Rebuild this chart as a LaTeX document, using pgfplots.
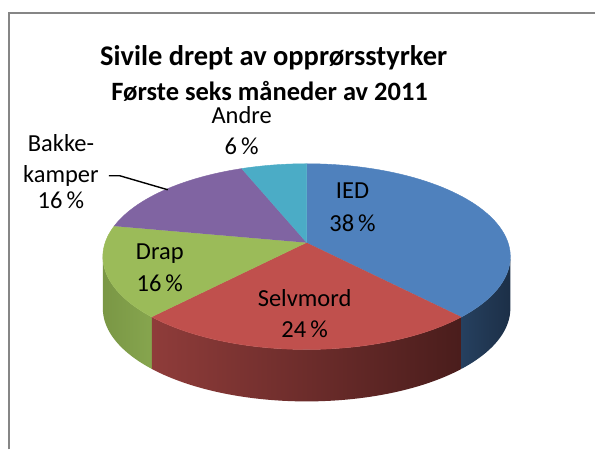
\documentclass[border=0pt]{standalone}
\usepackage{pgfplots}
\pgfplotsset{compat=1.18}
\usepackage{fontspec}
\setmainfont{Carlito}
\definecolor{cIED}{HTML}{4F81BD}
\definecolor{cSel}{HTML}{C0504D}
\definecolor{cDrap}{HTML}{9BBB59}
\definecolor{cBak}{HTML}{8064A2}
\definecolor{cAnd}{HTML}{4BACC6}
\definecolor{sIEDl}{HTML}{26405F}
\definecolor{sIEDr}{HTML}{1C2F47}
\definecolor{sSell}{HTML}{8F3C3A}
\definecolor{sSelr}{HTML}{4A1D1C}
\definecolor{sDrapl}{HTML}{7A9745}
\definecolor{sDrapr}{HTML}{86A54E}
\definecolor{frame}{HTML}{868686}
% perspective geometry (pixels)
\def\pA{201.7}\def\pB{90.9}\def\pk{0.150}\def\pD{52}
\def\cx{307}\def\cy{243}
% data (percent)
\def\vIED{38}\def\vSel{24}\def\vDrap{16}\def\vBak{16}\def\vAnd{6}
\pgfmathsetmacro\aA{90}
\pgfmathsetmacro\aB{\aA-3.6*\vIED}
\pgfmathsetmacro\aC{\aB-3.6*\vSel}
\pgfmathsetmacro\aD{\aC-3.6*\vDrap}
\pgfmathsetmacro\aE{\aD-3.6*\vBak}
\pgfmathsetmacro\aF{\aE-3.6*\vAnd}
\pgfmathsetmacro\sR{-asin(\pk)}
\pgfmathsetmacro\sL{-180+asin(\pk)}
\newcommand\pietop[3]{\addplot[fill=#3,draw=#3,line width=0.4pt,domain=0:2,samples=121,variable=\s]
 ({\cx+(1-max(\s-1,0))*\pA*cos((#1)+((#2)-(#1))*min(\s,1))/(1+\pk*sin((#1)+((#2)-(#1))*min(\s,1)))},
  {\cy-(1-max(\s-1,0))*\pB*sin((#1)+((#2)-(#1))*min(\s,1))/(1+\pk*sin((#1)+((#2)-(#1))*min(\s,1)))});}
\newcommand\pieside[4]{\addplot[draw=none,left color=#3,right color=#4,domain=0:3,samples=181,variable=\s]
 ({\cx+\pA*cos((#1)+((#2)-(#1))*(min(\s,1)-max(\s-2,0)))/(1+\pk*sin((#1)+((#2)-(#1))*(min(\s,1)-max(\s-2,0))))},
  {\cy-\pB*sin((#1)+((#2)-(#1))*(min(\s,1)-max(\s-2,0)))/(1+\pk*sin((#1)+((#2)-(#1))*(min(\s,1)-max(\s-2,0))))+\pD*min(max(\s-1,0),1)});}
\begin{document}
\begin{tikzpicture}
\begin{axis}[
  width=596pt, height=450pt, scale only axis,
  xmin=0, xmax=596, ymin=0, ymax=450, y dir=reverse,
  hide axis, clip=false]
\path[fill=white] (axis cs:0,0) rectangle (axis cs:596,450);
\draw[frame, line width=1.6pt] (axis cs:9,450) -- (axis cs:9,13) -- (axis cs:596,13);
% sides
\pieside{\sL}{\aC}{sDrapl}{sDrapr}
\pieside{\aC}{\aB}{sSell}{sSelr}
\pieside{\aB}{\sR}{sIEDl}{sIEDr}
% tops
\pietop{\aA}{\aB}{cIED}
\pietop{\aB}{\aC}{cSel}
\pietop{\aC}{\aD}{cDrap}
\pietop{\aD}{\aE}{cBak}
\pietop{\aE}{\aF}{cAnd}
% titles
\node[anchor=base, font=\fontsize{28.5}{32}\selectfont\bfseries] at (axis cs:274,66) {Sivile drept av opprørsstyrker};
\node[anchor=base, font=\fontsize{26.5}{32}\selectfont\bfseries] at (axis cs:270,101) {Første seks måneder av 2011};
% labels
\tikzset{lab/.style={anchor=base, font=\fontsize{24.5}{31}\selectfont}}
\node[lab] at (axis cs:353,199) {IED};
\node[lab] at (axis cs:353,232) {38\,\%};
\node[lab] at (axis cs:305,307) {Selvmord};
\node[lab] at (axis cs:305,338) {24\,\%};
\node[lab] at (axis cs:160,260) {Drap};
\node[lab] at (axis cs:160,292) {16\,\%};
\node[lab] at (axis cs:242,124) {Andre};
\node[lab] at (axis cs:242,155) {6\,\%};
\node[lab] at (axis cs:61,152) {Bakke-};
\node[lab] at (axis cs:61,183) {kamper};
\node[lab] at (axis cs:61,209) {16\,\%};
\draw[black, line width=1.4pt] (axis cs:109,176) -- (axis cs:120,176) -- (axis cs:168,190);
\end{axis}
\end{tikzpicture}
\end{document}
